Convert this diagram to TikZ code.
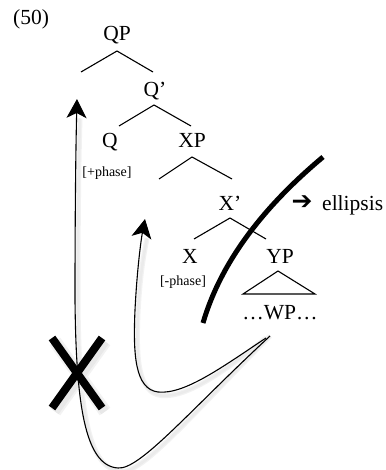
\documentclass[tikz,border=0pt]{standalone}
\usepackage{fontspec}
\setmainfont{Liberation Serif}
\newfontfamily\dejavu{DejaVu Sans}
\usetikzlibrary{arrows.meta}
\begin{document}
\begin{tikzpicture}[x=1pt,y=-1pt,
  lab/.style={anchor=base,inner sep=0pt,font=\fontsize{21.5}{25}\selectfont},
  feat/.style={anchor=base,inner sep=0pt,font=\fontsize{14}{16}\selectfont},
  branch/.style={line width=1.1pt},
  mv/.style={line width=1.1pt,-{Stealth[length=19pt,width=20pt,inset=5pt]}},
  shadowwide/.style={line width=5pt,draw=black!5},
  shadowline/.style={line width=2.5pt,draw=black!8},
  bigx/.style={line width=8pt},
  cut/.style={line width=5pt}
]
\useasboundingbox (0,0) rectangle (385,470);

% labels
\node[lab] (n50) at (31,25) {(50)};
\node[lab] (QP) at (117,41) {QP};
\node[lab] (Qbar) at (155,97) {Q’};
\node[lab] (Q) at (110,148) {Q};
\node[lab] (XP) at (192,148) {XP};
\node[feat] (plus) at (107,177) {[+phase]};
\node[lab] (Xbar) at (230,210) {X’};
\node[lab] (X) at (190,263) {X};
\node[lab] (YP) at (280,263) {YP};
\node[feat] (minus) at (183,285) {[-phase]};
\node[lab] (WP) at (280,319) {…WP…};
\node[anchor=base west,inner sep=0pt,font=\fontsize{21.5}{25}\selectfont] (ell) at (322,210) {ellipsis};
\node[anchor=center,inner sep=0pt,font=\dejavu\fontsize{25}{28}\selectfont] (arr) at (302,203) {➔};

% tree branch points
\coordinate (qpA) at (117,51);
\coordinate (qpL) at (81,72);
\coordinate (qpR) at (153,72);
\coordinate (qbA) at (154,105);
\coordinate (qbL) at (119,126);
\coordinate (qbR) at (191,126);
\coordinate (xpA) at (192,157);
\coordinate (xpL) at (159,179);
\coordinate (xpR) at (232,179);
\coordinate (xbA) at (230,218);
\coordinate (xbL) at (194,239);
\coordinate (xbR) at (266,239);
\coordinate (ypA) at (278,271);
\coordinate (ypL) at (243,294);
\coordinate (ypR) at (315,294);

\draw[branch] (qpL) -- (qpA) -- (qpR);
\draw[branch] (qbL) -- (qbA) -- (qbR);
\draw[branch] (xpL) -- (xpA) -- (xpR);
\draw[branch] (xbL) -- (xbA) -- (xbR);
\draw[branch] (ypA) -- (ypL) -- (ypR) -- cycle;

% ellipsis cut
\coordinate (cutB) at (203,323);
\coordinate (cutT) at (323,157);
\draw[cut] (cutB) .. controls (222,258) and (268,203) .. (cutT);

% movement arrows
\coordinate (startL) at (270,336);
\coordinate (startS) at (266,338);
\coordinate (tipL) at (77,99);
\coordinate (tipS) at (145,219);

% soft shadows
\begin{scope}[shift={(3,3.5)}]
\foreach \st in {shadowwide,shadowline}{
\draw[\st] (startL) .. controls (190,410) and (140,470) .. (118,468)
  .. controls (84,466) and (76,400) .. (75,300)
  .. controls (75,200) and (76,150) .. (77,115);
\draw[\st] (startS) .. controls (225,365) and (185,395) .. (158,392)
  .. controls (135,389) and (133,355) .. (135,310)
  .. controls (137,270) and (141,250) .. (144,235);
}
\draw[line width=13pt,draw=black!5] (52,338) -- (102,408);
\draw[line width=13pt,draw=black!5] (102,338) -- (52,408);
\draw[line width=9pt,draw=black!9] (52,338) -- (102,408);
\draw[line width=9pt,draw=black!9] (102,338) -- (52,408);
\end{scope}

\draw[mv] (startL) .. controls (190,410) and (140,470) .. (118,468)
  .. controls (84,466) and (76,400) .. (75,300)
  .. controls (75,200) and (76,140) .. (tipL);
\draw[mv] (startS) .. controls (225,365) and (185,395) .. (158,392)
  .. controls (135,389) and (133,355) .. (135,310)
  .. controls (137,270) and (141,240) .. (tipS);

% blocking X
\coordinate (xa) at (52,338);
\coordinate (xb) at (102,408);
\coordinate (xc) at (102,338);
\coordinate (xd) at (52,408);
\draw[bigx] (xa) -- (xb);
\draw[bigx] (xc) -- (xd);
\end{tikzpicture}
\end{document}
